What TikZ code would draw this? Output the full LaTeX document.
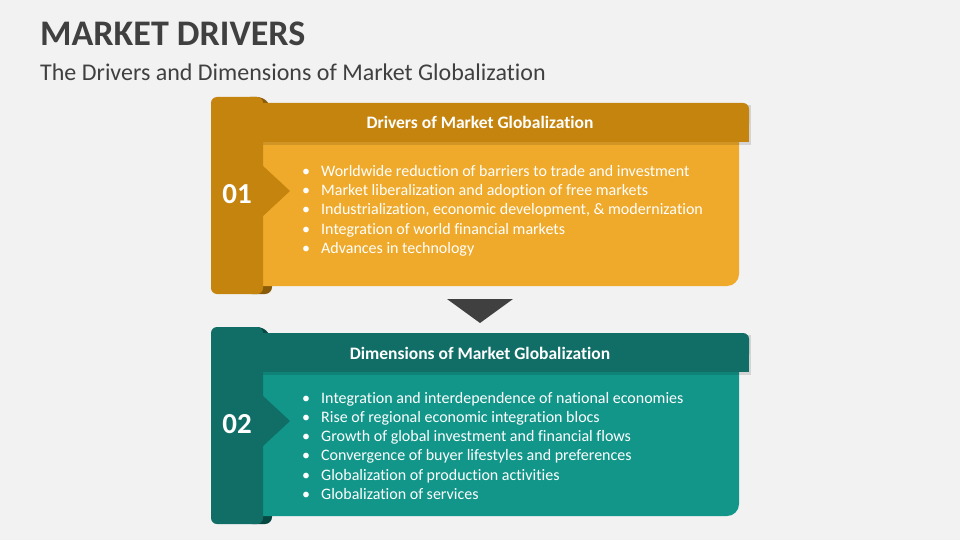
\documentclass[tikz,border=0pt]{standalone}
\usepackage{fontspec}
\setmainfont{Carlito}[Ligatures=NoCommon]
\usepackage{xcolor}
\definecolor{bg}{RGB}{242,242,242}
\definecolor{titlegray}{RGB}{64,64,64}
\definecolor{goldtab}{RGB}{196,132,14}
\definecolor{goldbody}{RGB}{239,170,43}
\definecolor{golddeep}{RGB}{138,92,10}
\definecolor{tealtab}{RGB}{16,110,102}
\definecolor{tealbody}{RGB}{19,150,138}
\definecolor{tealdeep}{RGB}{8,72,66}

\begin{document}
\begin{tikzpicture}[x=1pt, y=-1pt,
    heading/.style={anchor=base west, inner sep=0pt, text=titlegray},
    boxhead/.style={anchor=base, inner sep=0pt, text=white, font=\bfseries\fontsize{17.5}{21}\selectfont},
    boxnum/.style={anchor=base, inner sep=0pt, text=white, font=\bfseries\fontsize{29}{34}\selectfont},
    item/.style={anchor=base west, inner sep=0pt, text=white, font=\fontsize{16}{19}\selectfont}]

    % Background and page size
    \fill[bg] (0,0) rectangle (960,540);
    \useasboundingbox (0,0) rectangle (960,540);

    % Title and subtitle
    \node[heading, font=\bfseries\fontsize{36}{42}\selectfont] (title) at (40,46) {MARKET DRIVERS};
    \node[heading, font=\fontsize{24}{29}\selectfont] (subtitle) at (40,81) {The Drivers and Dimensions of Market Globalization};

    % Draw the two boxes
    \foreach \dy/\tab/\body/\deep/\lbl/\head [count=\i] in
        {0/goldtab/goldbody/golddeep/01/Drivers of Market Globalization,
         230/tealtab/tealbody/tealdeep/02/Dimensions of Market Globalization} {
      \begin{scope}[shift={(0,\dy)}]
        % folded corners behind the tab
        \fill[\deep, rounded corners=5pt] (245,97) -- (262,97) -- (270,104) -- (270,120) -- (245,120) -- cycle;
        \fill[\deep, rounded corners=7pt] (245,270) -- (272,270) -- (272,294) -- (245,294) -- cycle;
        % body with rounded lower right corner
        \fill[\body, rounded corners=12pt] (240,120) rectangle (739,286);
        % shadow and header bar
        \fill[black, opacity=0.12] (245,105) rectangle (751,145);
        \fill[\tab, rounded corners=6pt] (240,103) rectangle (749,130);
        \fill[\tab] (240,120) rectangle (749,142);
        % tab with its point
        \fill[\tab, rounded corners=6pt] (211,97) rectangle (263,294);
        \fill[\tab] (262,165) -- (290,191) -- (262,217) -- cycle;
        % Label the box
        \node[boxnum] (num\i) at (237,203) {\lbl};
        \node[boxhead] (head\i) at (480,129) {\head};
      \end{scope}
    }

    % Arrow between the boxes
    \fill[titlegray] (447,299) -- (513,299) -- (480,323) -- cycle;

    % Items of box 1
    \foreach \txt [count=\i] in {Worldwide reduction of barriers to trade and investment,
        Market liberalization and adoption of free markets,
        {Industrialization, economic development, \& modernization},
        Integration of world financial markets,
        Advances in technology}
      \node[item] (drv\i) at (302,{176+19.4*(\i-1)}) {\makebox[19pt][l]{\textbullet}\txt};

    % Items of box 2
    \foreach \txt [count=\i] in {Integration and interdependence of national economies,
        Rise of regional economic integration blocs,
        Growth of global investment and financial flows,
        Convergence of buyer lifestyles and preferences,
        Globalization of production activities,
        Globalization of services}
      \node[item] (dim\i) at (302,{403+19.3*(\i-1)}) {\makebox[19pt][l]{\textbullet}\txt};
\end{tikzpicture}
\end{document}
